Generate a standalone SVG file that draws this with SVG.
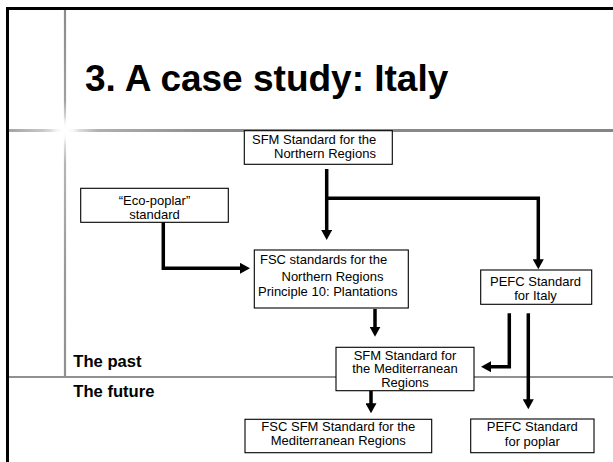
<svg xmlns="http://www.w3.org/2000/svg" width="613" height="462" viewBox="0 0 613 462">
<style>
.box{fill:#fff;stroke:#000;stroke-width:1.1}
.t{font-family:"Liberation Sans",Arial,sans-serif;font-size:13px;fill:#000}
.c{text-anchor:middle}
.b{font-family:"Liberation Sans",Arial,sans-serif;font-weight:bold;fill:#000}
.conn{fill:none;stroke:#000;stroke-width:3.5;stroke-linejoin:miter;stroke-linecap:butt}
</style>
<defs>
<marker id="ah" markerUnits="userSpaceOnUse" markerWidth="11" markerHeight="11" refX="4" refY="5.5" orient="auto">
<path d="M0,0 L10,5.5 L0,11 z" fill="#000"/>
</marker>
<linearGradient id="gh" gradientUnits="userSpaceOnUse" x1="0" y1="0" x2="613" y2="0">
<stop offset="0" stop-color="#9a9a9a"/>
<stop offset="0.07" stop-color="#c8c8c8"/>
<stop offset="0.106" stop-color="#ffffff"/>
<stop offset="0.16" stop-color="#b0b0b0"/>
<stop offset="0.35" stop-color="#8c8c8c"/>
<stop offset="1" stop-color="#858585"/>
</linearGradient>
<linearGradient id="gv" gradientUnits="userSpaceOnUse" x1="0" y1="8" x2="0" y2="377">
<stop offset="0" stop-color="#8a8a8a"/>
<stop offset="0.25" stop-color="#a0a0a0"/>
<stop offset="0.33" stop-color="#ffffff"/>
<stop offset="0.42" stop-color="#b5b5b5"/>
<stop offset="0.7" stop-color="#999"/>
<stop offset="1" stop-color="#909090"/>
</linearGradient>
<radialGradient id="glow" cx="65" cy="130.5" r="14" gradientUnits="userSpaceOnUse">
<stop offset="0" stop-color="#fff" stop-opacity="1"/>
<stop offset="0.5" stop-color="#fff" stop-opacity="0.6"/>
<stop offset="1" stop-color="#fff" stop-opacity="0"/>
</radialGradient>
</defs>
<rect x="0" y="0" width="613" height="462" fill="#fff"/>
<g id="frame">
<line x1="65" y1="8" x2="65" y2="376" stroke="url(#gv)" stroke-width="2.2"/>
<line x1="7" y1="130.5" x2="613" y2="130.5" stroke="url(#gh)" stroke-width="3"/>
<circle cx="65" cy="130.5" r="14" fill="url(#glow)"/>
<line x1="7" y1="377" x2="613" y2="377" stroke="#222" stroke-width="1.2"/>
<line x1="7.5" y1="7" x2="7.5" y2="462" stroke="#000" stroke-width="3"/>
<line x1="6" y1="8.5" x2="613" y2="8.5" stroke="#000" stroke-width="3"/>
</g>
<text class="b" x="85" y="90.7" font-size="37">3. A case study: Italy</text>
<text class="b" x="73.3" y="366.7" font-size="16.6">The past</text>
<text class="b" x="73.3" y="397.3" font-size="16.6">The future</text>
<g id="connectors">
<path class="conn" d="M326.7,169 V234" marker-end="url(#ah)"/>
<path class="conn" d="M326.7,198.3 H538.3 V263.3" marker-end="url(#ah)"/>
<path class="conn" d="M163.3,219 V268.3 H244" marker-end="url(#ah)"/>
<path class="conn" d="M375,309 V330.7" marker-end="url(#ah)"/>
<path class="conn" d="M509.3,313.3 V366.7 H487" marker-end="url(#ah)"/>
<path class="conn" d="M528.3,313.3 V403.3" marker-end="url(#ah)"/>
<path class="conn" d="M371,391 V407.3" marker-end="url(#ah)"/>
</g>
<g id="sfm-north">
<rect class="box" x="244.3" y="130.7" width="148" height="33.6"/>
<text class="t" x="252" y="144">SFM Standard for the</text>
<text class="t" x="274" y="158.2">Northern Regions</text>
</g>
<g id="eco-poplar">
<rect class="box" x="80.7" y="188.3" width="147.6" height="34"/>
<text class="t c" x="154.5" y="205" font-size="13.6">“Eco-poplar”</text>
<text class="t c" x="154.5" y="219.2" font-size="13.6">standard</text>
</g>
<g id="fsc-north">
<rect class="box" x="254.3" y="250" width="154" height="58"/>
<text class="t" x="260" y="263.5">FSC standards for the</text>
<text class="t" x="281.5" y="280.5">Northern Regions</text>
<text class="t" x="258" y="296" font-size="11.8">Principle 10: Plantations</text>
</g>
<g id="pefc-italy">
<rect class="box" x="480.7" y="270" width="111" height="34.3"/>
<text class="t c" x="535.5" y="285.5">PEFC Standard</text>
<text class="t c" x="535.5" y="299.5">for Italy</text>
</g>
<g id="sfm-med">
<rect class="box" x="336" y="347.3" width="138" height="43.4"/>
<text class="t c" x="405" y="359.8" font-size="12.7">SFM Standard for</text>
<text class="t c" x="405" y="373.3" font-size="12.7">the Mediterranean</text>
<text class="t c" x="405" y="386.8" font-size="12.7">Regions</text>
</g>
<g id="fsc-sfm-med">
<rect class="box" x="245" y="419.3" width="186.7" height="33.4"/>
<text class="t c" x="338.3" y="431">FSC SFM Standard for the</text>
<text class="t c" x="338.3" y="445">Mediterranean Regions</text>
</g>
<g id="pefc-poplar">
<rect class="box" x="470.7" y="419" width="123.3" height="33.7"/>
<text class="t c" x="532.3" y="431.3">PEFC Standard</text>
<text class="t c" x="532.3" y="445.5">for poplar</text>
</g>
</svg>
